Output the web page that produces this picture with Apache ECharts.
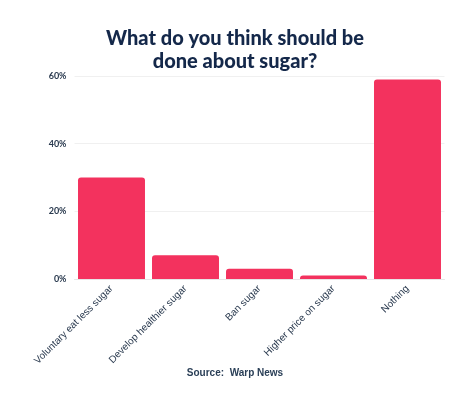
<!DOCTYPE html>
<html><head><meta charset="utf-8">
<script src="https://cdn.jsdelivr.net/npm/echarts@6/dist/echarts.min.js"></script>
<style>html,body{margin:0;padding:0;background:#fff}#c{width:470px;height:394px}</style>
</head><body><div id="c"></div>
<script>
const categories = ["Voluntary eat less sugar","Develop healthier sugar","Ban sugar","Higher price on sugar","Nothing"];
const values = [30, 7, 3, 1, 59];
const yTicks = [0, 20, 40, 60];
const titleText = "What do you think should be\ndone about sugar?";
const sourceText = "Source:  Warp News";

const chart = echarts.init(document.getElementById('c'));
chart.setOption({
  animation: false,
  backgroundColor: '#fff',
  title: [{
    text: titleText, left: 'center', top: 22,
    textStyle: {fontFamily: 'Lato', fontWeight: 900, fontSize: 20, lineHeight: 23, color: '#14284a'}
  },{
    text: sourceText, left: 'center', top: 363,
    textStyle: {fontFamily: 'Liberation Sans', fontWeight: 'bold', fontSize: 10, color: '#2a3f57'}
  }],
  grid: {left: 74.5, right: 25.5, top: 76, bottom: 115},
  xAxis: {
    type: 'category', data: categories,
    axisTick: {show: false},
    axisLine: {lineStyle: {color: '#e6e6e6'}},
    axisLabel: {rotate: 45, interval: 0, fontFamily: 'Liberation Sans', fontSize: 10, color: '#2a3a4f', margin: 8}
  },
  yAxis: {
    type: 'value', min: yTicks[0], max: yTicks[yTicks.length-1], interval: 20,
    axisLabel: {formatter: '{value}%', fontFamily: 'Lato', fontWeight: 'bold', fontSize: 9, color: '#2a3a4f', margin: 8},
    splitLine: {lineStyle: {color: '#f0f0f0'}}
  },
  series: [{
    type: 'bar', data: values, barCategoryGap: '9.5%',
    itemStyle: {color: '#f3325e', borderRadius: [3,3,0,0]}
  }]
});
</script></body></html>
